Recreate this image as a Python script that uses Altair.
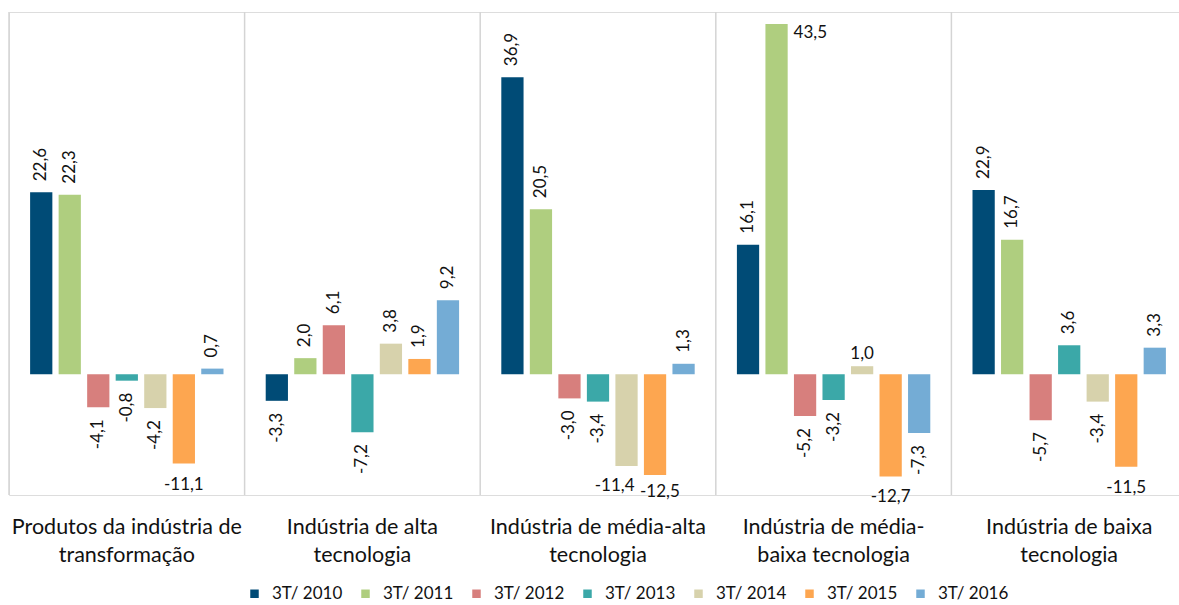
import altair as alt
import pandas as pd

# ---- data ----
categories = [
    "Produtos da indústria de\ntransformação",
    "Indústria de alta\ntecnologia",
    "Indústria de média-alta\ntecnologia",
    "Indústria de média-\nbaixa tecnologia",
    "Indústria de baixa\ntecnologia",
]
series = ["3T/ 2010", "3T/ 2011", "3T/ 2012", "3T/ 2013", "3T/ 2014", "3T/ 2015", "3T/ 2016"]
values_2010 = [22.6, -3.3, 36.9, 16.1, 22.9]
values_2011 = [22.3, 2.0, 20.5, 43.5, 16.7]
values_2012 = [-4.1, 6.1, -3.0, -5.2, -5.7]
values_2013 = [-0.8, -7.2, -3.4, -3.2, 3.6]
values_2014 = [-4.2, 3.8, -11.4, 1.0, -3.4]
values_2015 = [-11.1, 1.9, -12.5, -12.7, -11.5]
values_2016 = [0.7, 9.2, 1.3, -7.3, 3.3]
series_values = [values_2010, values_2011, values_2012, values_2013,
                 values_2014, values_2015, values_2016]

colors = ["#004B76", "#AFCE7F", "#D77F7D", "#3BA8A8", "#D7D2AC", "#FDA650", "#74ACD5"]

# label placement (style): (category index, series index)
labels_below_horizontal = {(0, 5), (3, 5), (4, 5)}
labels_below_left = {(2, 4)}
labels_below_right = {(2, 5)}
labels_above_horizontal = {(3, 4)}
labels_right_side = {(3, 1)}

rows = []
for si, (s, vals) in enumerate(zip(series, series_values)):
    for ci, (c, v) in enumerate(zip(categories, vals)):
        key = (ci, si)
        if key in labels_below_horizontal:
            kind = "hbelow"
        elif key in labels_below_left:
            kind = "hbelow_l"
        elif key in labels_below_right:
            kind = "hbelow_r"
        elif key in labels_above_horizontal:
            kind = "habove"
        elif key in labels_right_side:
            kind = "side"
        elif v >= 0:
            kind = "rpos"
        else:
            kind = "rneg"
        rows.append({"group": c, "series": s, "value": v,
                     "label": f"{v:.1f}".replace(".", ","), "kind": kind})
df = pd.DataFrame(rows)
groups_df = pd.DataFrame({"group": categories})

FONT = "Lato"
W, H = 1170, 483

xenc = alt.X("group:N", sort=categories,
             scale=alt.Scale(paddingInner=0, paddingOuter=0, range=[0, 1178]),
             axis=alt.Axis(title=None, domain=False, ticks=False, labelAngle=0,
                           labelAlign="center", bandPosition=0.5,
                           labelFont=FONT, labelFontSize=21.5, labelColor="#111111",
                           labelPadding=32, labelLineHeight=28.5, labelLimit=0,
                           labelExpr="split(datum.label, '\\n')"))
xoff = alt.XOffset("series:N", sort=series,
                   scale=alt.Scale(paddingInner=0.22, paddingOuter=0.74))
yenc = alt.Y("value:Q", scale=alt.Scale(domain=[-15, 45], nice=False, zero=False), axis=None)

base = alt.Chart(df)

seps = alt.Chart(groups_df).mark_rule(color="#D4D4D4", strokeWidth=1.5).encode(
    x=alt.X("group:N", sort=categories, bandPosition=0),
    y=alt.value(0), y2=alt.value(H))

bars = base.mark_bar().encode(
    x=xenc, xOffset=xoff, y=yenc, y2=alt.datum(0),
    color=alt.Color("series:N", sort=series,
                    scale=alt.Scale(domain=series, range=colors),
                    legend=alt.Legend(title=None, orient="none", direction="horizontal",
                                      legendX=237, legendY=573, padding=0,
                                      symbolType="square", symbolSize=72,
                                      symbolStrokeWidth=0, labelFont=FONT,
                                      labelFontSize=17, labelColor="#111111",
                                      labelOffset=9, columnPadding=14)))

def txt(kind, **kw):
    return base.transform_filter(alt.datum.kind == kind).mark_text(
        font=FONT, fontSize=17, color="#111111", **kw).encode(
        x=alt.X("group:N", sort=categories), xOffset=alt.XOffset("series:N", sort=series),
        y="value:Q", text="label:N")

t_rpos = txt("rpos", angle=270, align="left", baseline="middle", dx=11)
t_rneg = txt("rneg", angle=270, align="right", baseline="middle", dx=-12)
t_hbelow = txt("hbelow", align="center", baseline="top", dy=13)
t_hbelow_l = txt("hbelow_l", align="right", baseline="top", dx=8, dy=12)
t_hbelow_r = txt("hbelow_r", align="left", baseline="top", dx=-15, dy=9)
t_habove = txt("habove", align="center", baseline="bottom", dy=-3)
t_side = txt("side", align="left", baseline="top", dx=17, dy=1)

chart = alt.layer(seps, bars, t_rpos, t_rneg, t_hbelow, t_hbelow_l, t_hbelow_r,
                  t_habove, t_side).properties(
    width=W, height=H,
    autosize=alt.AutoSizeParams(type="none"),
    padding={"left": 9, "top": 12, "right": 0, "bottom": 110},
).configure_view(stroke=None).configure(background="white")

chart.save("out.html", embed_options={"renderer": "svg", "actions": False})
